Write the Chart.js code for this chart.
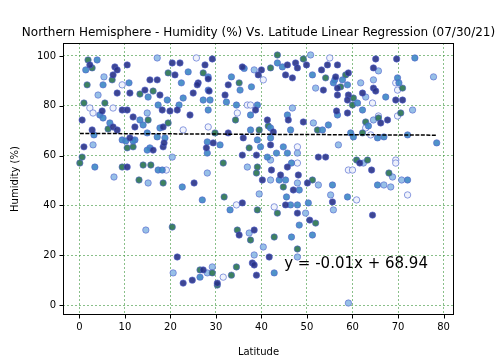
<!DOCTYPE html>
<html>
<head>
<meta charset="utf-8">
<script src="https://cdn.jsdelivr.net/npm/chart.js@4.4.0/dist/chart.umd.min.js"></script>
<style>
  html, body { margin: 0; padding: 0; background: #fff; }
</style>
</head>
<body>
<canvas id="humidityChart" width="504" height="360"></canvas>
<script>
// Northern hemisphere cities: [latitude, humidity %], grouped by marker shade
const navyPoints = [
    [29.2, 98.8], [65.1, 98.8], [69.7, 98.8], [2.3, 96.4], [7.8, 95.6], [8.3, 94.4], [10.5, 96.4],
    [20.4, 97.2], [22.1, 97.2], [21.0, 92.4], [27.6, 96.4], [7.4, 92.4], [15.5, 90.4], [17.1, 90.4],
    [26.1, 89.2], [25.9, 88.4], [28.3, 90.8], [8.3, 85.1], [11.1, 85.1], [14.4, 86.3], [17.7, 84.3],
    [25.0, 85.1], [5.0, 77.9], [9.4, 78.3], [10.5, 78.3], [11.8, 75.5], [18.2, 78.3], [19.9, 77.9],
    [21.5, 78.3], [24.3, 76.3], [0.6, 74.3], [7.4, 71.5], [8.3, 70.3], [12.2, 71.5], [18.4, 71.5],
    [2.8, 70.3], [11.1, 67.1], [1.0, 63.5], [18.4, 63.5], [27.9, 63.1], [35.8, 95.6], [40.0, 94.4],
    [39.3, 92.4], [45.7, 96.4], [47.5, 97.2], [47.9, 95.2], [49.9, 96.4], [45.3, 92.4], [46.8, 91.2],
    [53.2, 94.4], [54.5, 96.4], [56.7, 96.4], [56.3, 91.6], [32.7, 88.4], [32.0, 84.3], [28.5, 85.9],
    [53.6, 86.3], [56.7, 87.1], [56.7, 84.3], [59.1, 84.3], [38.7, 78.3], [41.3, 74.3], [45.9, 74.3],
    [49.2, 73.5], [56.5, 77.9], [58.9, 77.1], [32.7, 69.1], [42.6, 69.5], [29.4, 65.1], [36.0, 67.1],
    [42.0, 64.3], [64.6, 95.2], [59.1, 93.2], [64.6, 87.1], [65.1, 85.9], [62.2, 85.1], [69.5, 82.3],
    [71.0, 82.3], [58.9, 82.3], [67.7, 74.3], [66.2, 73.1], [16.2, 62.2], [18.6, 65.1], [10.5, 55.4],
    [25.2, 49.0], [42.2, 54.2], [40.2, 50.2], [44.2, 52.2], [45.7, 55.4], [48.1, 52.2], [47.0, 46.2],
    [50.1, 49.0], [52.5, 59.4], [54.1, 59.4], [35.8, 60.2], [38.9, 60.2], [35.8, 41.0], [45.3, 40.2],
    [47.9, 36.9], [55.6, 41.4], [50.6, 34.1], [35.1, 28.1], [38.4, 30.1], [61.6, 57.0], [64.2, 54.2],
    [64.4, 36.1], [21.5, 19.3], [22.8, 8.8], [24.8, 10.0], [27.2, 14.1], [30.3, 8.8], [38.0, 16.9],
    [38.4, 16.1], [38.9, 12.0], [41.7, 19.3]
];
const bluePoints = [
    [3.9, 98.4], [73.7, 99.2], [1.4, 94.4], [23.9, 93.6], [10.9, 89.2], [5.2, 88.4], [22.4, 89.2],
    [15.1, 83.5], [17.3, 80.3], [19.3, 82.3], [22.8, 83.1], [27.2, 82.3], [28.3, 86.3], [4.5, 76.3],
    [13.3, 74.3], [21.9, 80.3], [28.3, 78.3], [5.2, 75.1], [6.7, 73.1], [14.0, 72.3], [17.7, 71.1],
    [3.2, 68.3], [9.4, 66.3], [12.2, 66.3], [14.9, 69.1], [17.1, 67.5], [18.8, 67.1], [15.5, 63.1],
    [28.1, 65.5], [36.2, 95.0], [44.6, 95.6], [43.5, 97.2], [28.3, 91.6], [51.2, 92.4], [57.8, 90.4],
    [58.9, 88.4], [33.4, 91.6], [35.3, 86.3], [37.8, 87.6], [32.3, 81.5], [28.7, 82.3], [55.8, 89.2],
    [34.5, 80.3], [39.1, 80.3], [37.6, 76.3], [45.7, 76.3], [53.4, 70.3], [54.7, 72.3], [56.7, 76.3],
    [37.6, 70.3], [42.0, 71.1], [46.4, 70.3], [30.9, 64.3], [39.1, 66.3], [42.0, 67.1], [39.8, 63.5],
    [44.8, 63.5], [56.1, 90.4], [69.9, 91.2], [70.2, 89.2], [61.1, 81.1], [67.3, 83.5], [62.2, 78.3],
    [63.5, 71.9], [59.6, 69.1], [65.5, 67.1], [66.9, 67.5], [72.1, 68.3], [60.2, 67.5], [78.5, 65.1],
    [10.2, 65.9], [11.8, 65.9], [14.9, 62.2], [3.4, 55.4], [17.3, 54.2], [18.2, 54.2], [22.6, 47.4],
    [27.0, 42.2], [28.1, 61.0], [43.9, 50.2], [45.3, 50.2], [46.6, 57.0], [48.3, 46.2], [55.6, 48.2],
    [45.7, 61.0], [43.3, 61.0], [41.3, 59.4], [33.1, 38.2], [45.5, 43.4], [46.4, 40.2], [47.9, 40.2],
    [50.3, 41.0], [58.9, 43.4], [48.3, 32.1], [51.2, 28.1], [46.6, 27.3], [65.5, 48.2], [72.1, 50.2],
    [26.5, 11.2], [42.8, 12.9]
];
const lightPoints = [
    [17.1, 99.2], [50.8, 100.4], [5.4, 91.6], [4.1, 84.3], [14.9, 77.1], [3.0, 64.3], [38.4, 94.4],
    [46.8, 79.1], [51.4, 73.1], [56.9, 64.3], [51.9, 87.1], [65.7, 94.0], [77.8, 91.6], [61.8, 89.2],
    [64.6, 90.4], [62.9, 83.5], [73.2, 78.3], [64.6, 74.3], [7.6, 51.4], [20.4, 59.4], [15.1, 49.0],
    [28.1, 53.0], [14.6, 30.1], [36.9, 55.4], [42.0, 50.2], [47.9, 49.0], [52.5, 48.2], [55.2, 44.2],
    [47.9, 61.0], [42.0, 58.2], [39.5, 44.6], [49.7, 36.9], [55.8, 38.2], [37.3, 28.9], [40.4, 23.3],
    [62.4, 57.0], [68.8, 51.4], [66.9, 48.2], [68.4, 47.4], [70.8, 50.2], [20.6, 12.9], [28.1, 12.9],
    [29.2, 15.3], [38.4, 20.1], [47.9, 19.3], [59.1, 0.8]
];
const greenPoints = [
    [1.9, 98.4], [43.5, 100.4], [49.2, 98.8], [2.8, 95.2], [19.5, 93.2], [7.2, 90.4], [1.7, 88.4],
    [13.3, 84.7], [16.2, 85.9], [1.0, 81.1], [5.6, 81.1], [15.1, 74.3], [6.3, 70.7], [19.5, 73.1],
    [10.5, 63.1], [11.8, 63.5], [27.2, 93.2], [42.0, 95.2], [54.1, 91.2], [58.5, 92.4], [35.1, 89.2],
    [57.4, 87.6], [34.3, 74.3], [41.5, 71.9], [52.3, 70.3], [29.8, 69.1], [39.5, 70.3], [37.3, 63.1],
    [71.0, 87.1], [60.2, 83.1], [60.0, 80.3], [70.6, 77.1], [62.9, 73.5], [65.7, 75.1], [62.2, 69.1],
    [0.6, 59.4], [0.1, 57.0], [9.4, 55.4], [14.0, 56.2], [15.7, 56.2], [13.1, 50.2], [18.4, 49.0],
    [20.4, 31.3], [31.6, 57.0], [39.1, 55.4], [38.9, 53.0], [44.8, 47.4], [51.2, 50.2], [31.8, 43.4],
    [39.1, 38.2], [43.5, 36.9], [51.9, 32.9], [34.7, 30.1], [37.6, 26.1], [42.8, 27.3], [47.9, 22.5],
    [60.9, 58.2], [63.3, 58.2], [68.0, 53.0], [26.5, 14.1], [29.2, 12.9], [30.3, 8.0], [33.4, 12.0],
    [34.5, 15.3]
];
const whitePoints = [
    [25.7, 99.2], [55.0, 99.2], [9.4, 88.4], [2.3, 79.1], [3.0, 77.1], [7.4, 79.1], [22.8, 70.3],
    [28.3, 71.5], [40.4, 90.4], [36.9, 80.3], [37.6, 80.3], [34.7, 77.1], [47.9, 63.5], [69.5, 89.2],
    [69.9, 86.3], [64.4, 81.1], [69.9, 75.9], [65.7, 75.9], [62.9, 71.1], [64.0, 68.3], [19.1, 54.2],
    [47.9, 57.0], [59.1, 54.2], [34.5, 40.2], [42.8, 39.4], [60.0, 54.2], [69.5, 58.2], [69.5, 57.0],
    [72.1, 44.2], [60.9, 42.2], [31.6, 11.2]
];

// Regression line end points and its equation label
const regressionLat = [0.1, 78.5];
const regressionHum = [68.9, 68.2];
const equationText = 'y = -0.01x + 68.94';
const equationAt = [45, 15];

const titleText = 'Northern Hemisphere - Humidity (%) Vs. Latitude Linear Regression (07/30/21)';
const xTicks = [0, 10, 20, 30, 40, 50, 60, 70, 80];
const yTicks = [0, 20, 40, 60, 80, 100];

const FONT = "'DejaVu Sans', sans-serif";
const EDGE = 'rgba(85, 100, 205, 0.6)';

function toXY(points) {
    return points.map(p => ({ x: p[0], y: p[1] }));
}

function scatterSet(points, fill, edge) {
    return {
        type: 'scatter',
        data: toXY(points),
        backgroundColor: fill,
        borderColor: edge || EDGE,
        borderWidth: 1,
        pointRadius: 3.2,
        order: 1
    };
}

// Frame, tick marks, title, axis titles and equation text
const decorations = {
    id: 'decorations',
    afterDatasetsDraw(chart) {
        const ctx = chart.ctx;
        const x = chart.scales.x, y = chart.scales.y;
        ctx.save();
        ctx.fillStyle = '#000';
        ctx.font = '15px ' + FONT;
        ctx.textAlign = 'left';
        ctx.textBaseline = 'alphabetic';
        ctx.fillText(equationText, x.getPixelForValue(equationAt[0]), y.getPixelForValue(equationAt[1]));
        ctx.restore();
    },
    afterDraw(chart) {
        const ctx = chart.ctx;
        const area = chart.chartArea;
        const x = chart.scales.x, y = chart.scales.y;
        ctx.save();
        ctx.strokeStyle = '#000';
        ctx.lineWidth = 1;
        ctx.strokeRect(Math.round(area.left) + 0.5, Math.round(area.top) + 0.5,
            Math.round(area.right - area.left) - 1, Math.round(area.bottom - area.top) - 1);

        ctx.beginPath();
        xTicks.forEach(v => {
            const px = Math.round(x.getPixelForValue(v)) + 0.5;
            ctx.moveTo(px, area.bottom);
            ctx.lineTo(px, area.bottom + 3.5);
        });
        yTicks.forEach(v => {
            const py = Math.round(y.getPixelForValue(v)) + 0.5;
            ctx.moveTo(area.left, py);
            ctx.lineTo(area.left - 3.5, py);
        });
        ctx.stroke();

        ctx.fillStyle = '#000';
        ctx.textAlign = 'center';
        ctx.textBaseline = 'middle';
        ctx.font = '12px ' + FONT;
        ctx.fillText(titleText, (area.left + area.right) / 2, 33);

        ctx.font = '10px ' + FONT;
        ctx.fillText('Latitude', (area.left + area.right) / 2, 352);
        ctx.translate(15, (area.top + area.bottom) / 2);
        ctx.rotate(-Math.PI / 2);
        ctx.fillText('Humidity (%)', 0, 0);
        ctx.restore();
    }
};

const gridStyle = { color: 'rgba(60, 150, 60, 0.75)', lineWidth: 0.8, drawTicks: false };

new Chart(document.getElementById('humidityChart').getContext('2d'), {
    type: 'scatter',
    data: {
        datasets: [
            {
                type: 'line',
                data: regressionLat.map((v, i) => ({ x: v, y: regressionHum[i] })),
                borderColor: '#000',
                borderWidth: 1.5,
                borderDash: [4, 1.5],
                pointRadius: 0,
                fill: false,
                order: 0
            },
            scatterSet(navyPoints, 'rgba(40, 50, 135, 0.9)'),
            scatterSet(bluePoints, 'rgba(60, 135, 195, 0.9)'),
            scatterSet(greenPoints, 'rgba(40, 115, 80, 0.9)'),
            scatterSet(lightPoints, 'rgba(140, 185, 228, 0.9)'),
            scatterSet(whitePoints, 'rgba(238, 242, 252, 0.9)', 'rgba(110, 130, 215, 0.8)')
        ]
    },
    options: {
        responsive: false,
        animation: false,
        layout: { padding: { top: 43, right: 50, left: 0, bottom: 0 } },
        plugins: { legend: { display: false }, tooltip: { enabled: false } },
        scales: {
            x: {
                type: 'linear',
                min: -3.6,
                max: 82.3,
                afterFit: s => { s.height = 45; },
                grid: gridStyle,
                border: { display: false, dash: [2, 2] },
                ticks: { stepSize: 10, includeBounds: false, padding: 6, color: '#000', font: { family: FONT, size: 10 } }
            },
            y: {
                type: 'linear',
                min: -4.0,
                max: 105.2,
                afterFit: s => { s.width = 63; },
                grid: gridStyle,
                border: { display: false, dash: [2, 2] },
                ticks: { stepSize: 20, includeBounds: false, padding: 7, color: '#000', font: { family: FONT, size: 10 } }
            }
        }
    },
    plugins: [decorations]
});
</script>
</body>
</html>
